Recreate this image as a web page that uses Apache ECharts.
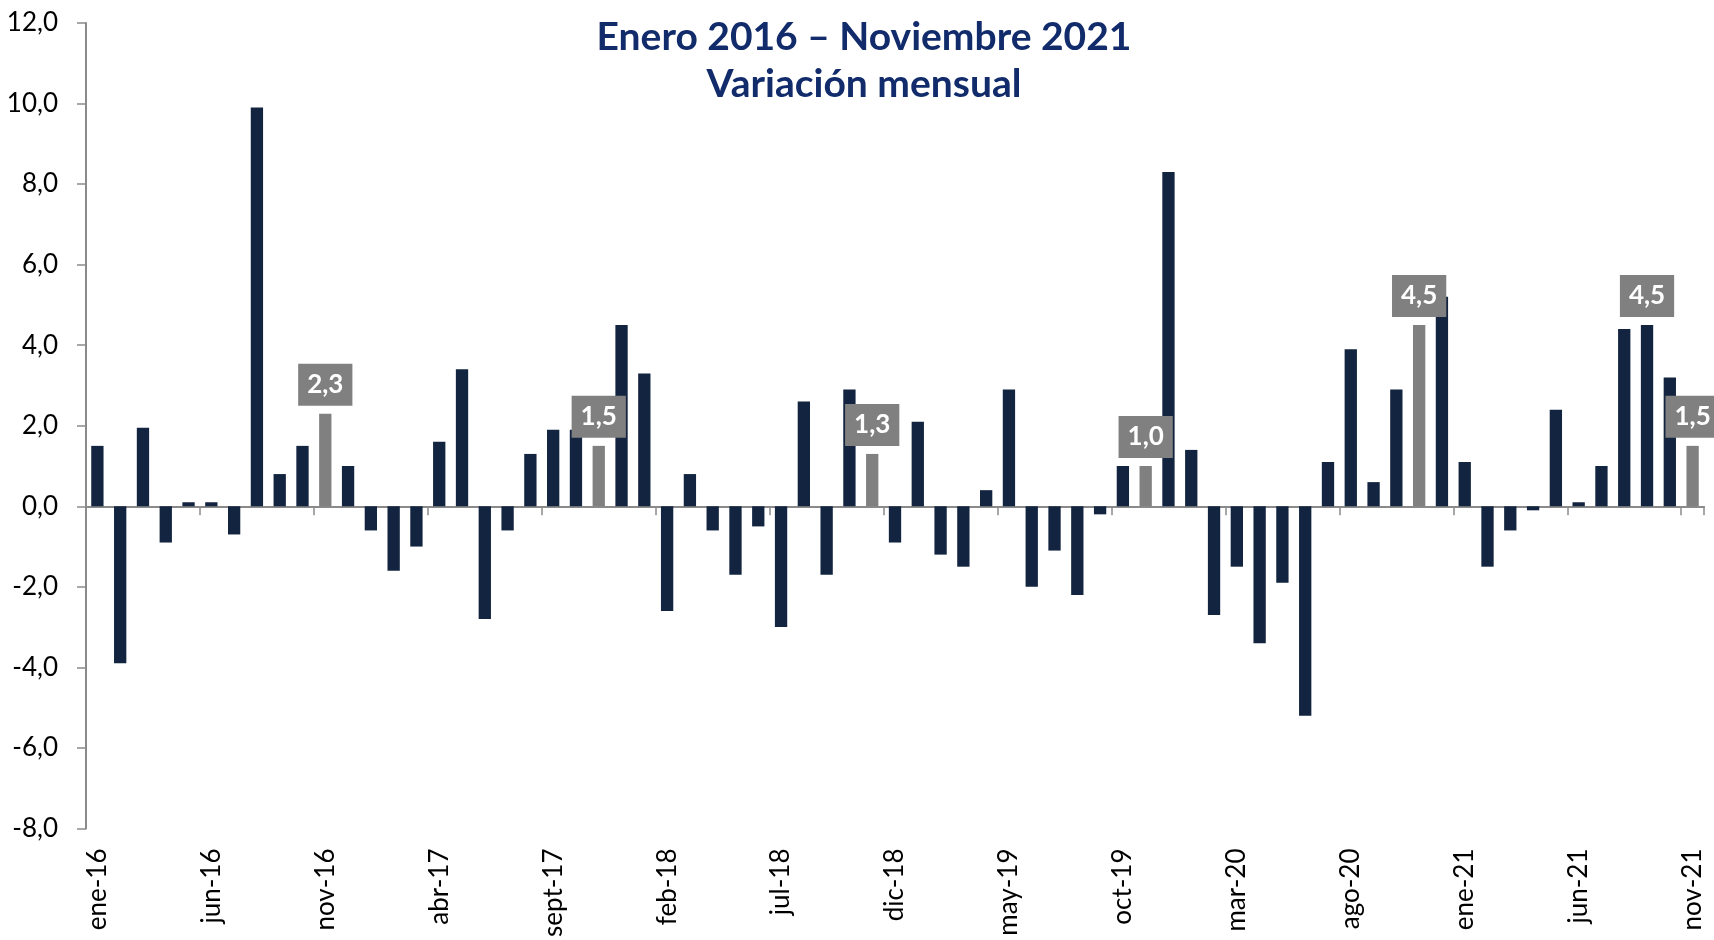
<!DOCTYPE html>
<html>
<head>
<meta charset="utf-8">
<title>Variación mensual</title>
<script src="https://cdn.jsdelivr.net/npm/echarts@6/dist/echarts.min.js"></script>
<style>
  html, body { margin: 0; padding: 0; background: #ffffff; }
  #chart { width: 1714px; height: 940px; }
</style>
</head>
<body>
<div id="chart"></div>
<script>
// Monthly categories, January 2016 to November 2021
const categories = [
  'ene-16','feb-16','mar-16','abr-16','may-16','jun-16','jul-16','ago-16','sept-16','oct-16','nov-16','dic-16',
  'ene-17','feb-17','mar-17','abr-17','may-17','jun-17','jul-17','ago-17','sept-17','oct-17','nov-17','dic-17',
  'ene-18','feb-18','mar-18','abr-18','may-18','jun-18','jul-18','ago-18','sept-18','oct-18','nov-18','dic-18',
  'ene-19','feb-19','mar-19','abr-19','may-19','jun-19','jul-19','ago-19','sept-19','oct-19','nov-19','dic-19',
  'ene-20','feb-20','mar-20','abr-20','may-20','jun-20','jul-20','ago-20','sept-20','oct-20','nov-20','dic-20',
  'ene-21','feb-21','mar-21','abr-21','may-21','jun-21','jul-21','ago-21','sept-21','oct-21','nov-21'
];

// Monthly variation (%)
const variacion = [
  1.5, -3.9, 1.95, -0.9, 0.1, 0.1, -0.7, 9.9, 0.8, 1.5, 2.3, 1.0,
  -0.6, -1.6, -1.0, 1.6, 3.4, -2.8, -0.6, 1.3, 1.9, 1.9, 1.5, 4.5,
  3.3, -2.6, 0.8, -0.6, -1.7, -0.5, -3.0, 2.6, -1.7, 2.9, 1.3, -0.9,
  2.1, -1.2, -1.5, 0.4, 2.9, -2.0, -1.1, -2.2, -0.2, 1.0, 1.0, 8.3,
  1.4, -2.7, -1.5, -3.4, -1.9, -5.2, 1.1, 3.9, 0.6, 2.9, 4.5, 5.2,
  1.1, -1.5, -0.6, -0.1, 2.4, 0.1, 1.0, 4.4, 4.5, 3.2, 1.5
];

// Months drawn in grey (each November)
const grayMonths = ['nov-16', 'nov-17', 'nov-18', 'nov-19', 'nov-20', 'nov-21'];
// Months whose value is written in a label box
const labeledMonths = ['nov-16', 'nov-17', 'nov-18', 'nov-19', 'nov-20', 'sept-21', 'nov-21'];

// Value axis ticks
const yMin = -8, yMax = 12, yStep = 2;

const titleLines = ['Enero 2016 – Noviembre 2021', 'Variación mensual'];

const NAVY = '#12243f';
const GREY = '#808080';
const AXIS = '#8a8a8a';
const FONT = 'Lato, "Open Sans", sans-serif';

const fmt = v => v.toFixed(1).replace('.', ',');

const barData = variacion.map((v, i) => {
  const cat = categories[i];
  const item = { value: v, itemStyle: { color: grayMonths.includes(cat) ? GREY : NAVY } };
  if (labeledMonths.includes(cat)) {
    item.label = {
      show: true,
      position: 'top',
      distance: 8,
      formatter: p => fmt(p.value),
      backgroundColor: GREY,
      color: '#ffffff',
      fontFamily: FONT,
      fontWeight: 'bold',
      fontSize: 26,
      lineHeight: 30,
      padding: [6, 9, 6, 9]
    };
  }
  return item;
});

const chart = echarts.init(document.getElementById('chart'), null, { renderer: 'canvas' });

chart.setOption({
  backgroundColor: '#ffffff',
  animation: false,
  graphic: [
    {
      type: 'text', x: 864, y: 37, z: 10,
      style: { text: titleLines[0], fill: '#112b6b', font: 'bold 39px ' + FONT, textAlign: 'center', textVerticalAlign: 'middle' }
    },
    {
      type: 'text', x: 864, y: 84, z: 10,
      style: { text: titleLines[1], fill: '#112b6b', font: 'bold 39px ' + FONT, textAlign: 'center', textVerticalAlign: 'middle' }
    }
  ],
  grid: { left: 86, right: 10, top: 23, bottom: 109, containLabel: false },
  xAxis: [
    {
      type: 'category',
      data: categories,
      boundaryGap: true,
      axisLine: { show: true, onZero: true, lineStyle: { color: AXIS, width: 2 } },
      axisTick: { show: true, interval: 4, length: 9, inside: false, lineStyle: { color: AXIS, width: 1.5 } },
      axisLabel: { show: false },
      splitLine: { show: false }
    },
    {
      type: 'category',
      data: categories,
      position: 'bottom',
      boundaryGap: true,
      axisLine: { show: false, onZero: false },
      axisTick: { show: false },
      axisLabel: {
        show: true,
        interval: 4,
        rotate: 90,
        margin: 20,
        color: '#000000',
        fontFamily: FONT,
        fontSize: 26
      },
      splitLine: { show: false }
    }
  ],
  yAxis: {
    type: 'value',
    min: yMin,
    max: yMax,
    interval: yStep,
    axisLine: { show: true, lineStyle: { color: AXIS, width: 2 } },
    axisTick: { show: true, length: 9, lineStyle: { color: AXIS, width: 1.5 } },
    axisLabel: { formatter: fmt, color: '#000000', fontFamily: FONT, fontSize: 26, margin: 28 },
    splitLine: { show: false }
  },
  series: [
    {
      type: 'bar',
      xAxisIndex: 0,
      data: barData,
      barWidth: '54%',
      z: 3
    }
  ]
});
</script>
</body>
</html>
